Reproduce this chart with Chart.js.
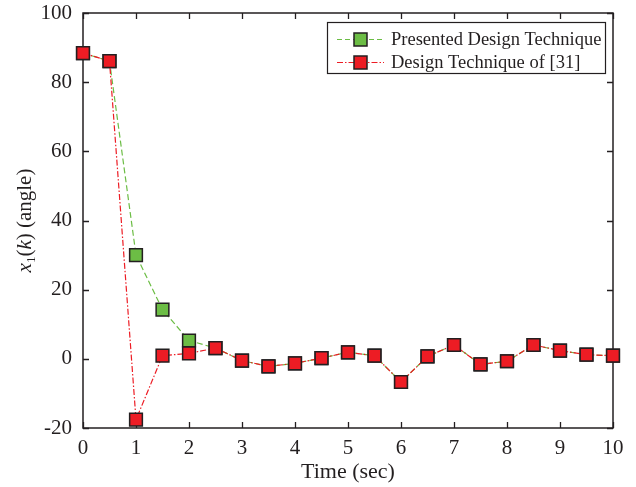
<!DOCTYPE html>
<html>
<head>
<meta charset="utf-8">
<script src="https://cdn.jsdelivr.net/npm/chart.js@4/dist/chart.umd.min.js"></script>
<style>
  html, body { margin: 0; padding: 0; background: #fff; }
  #wrap { width: 636px; height: 487px; position: relative; }
</style>
</head>
<body>
<div id="wrap"><canvas id="simChart"></canvas></div>
<script>
const timeSec = [0, 0.5, 1, 1.5, 2, 2.5, 3, 3.5, 4, 4.5, 5, 5.5, 6, 6.5, 7, 7.5, 8, 8.5, 9, 9.5, 10];
const presented = [88.4, 86.1, 30.0, 14.2, 5.3, 3.1, -0.5, -2.2, -1.3, 0.2, 1.9, 0.9, -6.7, 0.7, 4.0, -1.6, -0.7, 4.0, 2.4, 1.2, 0.9];
const ref31 = [88.4, 86.1, -17.6, 0.9, 1.6, 3.1, -0.5, -2.2, -1.3, 0.2, 1.9, 0.9, -6.7, 0.7, 4.0, -1.6, -0.7, 4.0, 2.4, 1.2, 0.9];
const xTicks = [0, 1, 2, 3, 4, 5, 6, 7, 8, 9, 10];
const yTicks = [-20, 0, 20, 40, 60, 80, 100];
const seriesNames = ['Presented Design Technique', 'Design Technique of [31]'];

const GREEN = '#6cbd45';
const RED = '#ed1c24';
const INK = '#231f20';
const SERIF = '"Liberation Serif", "Times New Roman", serif';

const toXY = ys => timeSec.map((t, i) => ({ x: t, y: ys[i] }));

// inward ticks on all four sides + top/right frame
const frameTicks = {
    id: 'frameTicks',
    beforeDatasetsDraw(chart) {
        const { ctx, chartArea: a, scales: { x, y } } = chart;
        const L = 6;
        ctx.save();
        ctx.strokeStyle = INK;
        ctx.lineWidth = 1.3;
        ctx.beginPath();
        xTicks.forEach(v => {
            const px = Math.round(x.getPixelForValue(v)) + 0.5;
            ctx.moveTo(px, a.bottom); ctx.lineTo(px, a.bottom - L);
            ctx.moveTo(px, a.top); ctx.lineTo(px, a.top + L);
        });
        yTicks.forEach(v => {
            const py = Math.round(y.getPixelForValue(v)) + 0.5;
            ctx.moveTo(a.left, py); ctx.lineTo(a.left + L, py);
            ctx.moveTo(a.right, py); ctx.lineTo(a.right - L, py);
        });
        ctx.stroke();
        ctx.lineWidth = 1.5;
        ctx.strokeRect(a.left, a.top, a.right - a.left, a.bottom - a.top);
        ctx.restore();
    }
};

// y title with italic parts and subscript
const yTitle = {
    id: 'yTitle',
    afterDraw(chart) {
        const { ctx, chartArea: a } = chart;
        const cy = (a.top + a.bottom) / 2;
        const parts = [
            { t: 'x', f: 'italic 21px ' + SERIF, dy: 0 },
            { t: '1', f: '13px ' + SERIF, dy: 4 },
            { t: '(', f: '21px ' + SERIF, dy: 0 },
            { t: 'k', f: 'italic 21px ' + SERIF, dy: 0 },
            { t: ') (angle)', f: '21px ' + SERIF, dy: 0 }
        ];
        ctx.save();
        let total = 0;
        parts.forEach(p => { ctx.font = p.f; p.w = ctx.measureText(p.t).width; total += p.w; });
        ctx.translate(31, cy);
        ctx.rotate(-Math.PI / 2);
        ctx.fillStyle = INK;
        ctx.textBaseline = 'alphabetic';
        let cx = -total / 2;
        parts.forEach(p => {
            ctx.font = p.f;
            ctx.fillText(p.t, cx, p.dy);
            cx += p.w;
        });
        ctx.restore();
    }
};

// boxed legend with line + marker samples
const boxLegend = {
    id: 'boxLegend',
    afterDraw(chart) {
        const { ctx } = chart;
        const bx = 327, by = 22, bw = 278, bh = 51;
        ctx.save();
        ctx.fillStyle = '#fff';
        ctx.fillRect(bx, by, bw, bh);
        ctx.strokeStyle = INK;
        ctx.lineWidth = 1.2;
        ctx.strokeRect(bx + 0.5, by + 0.5, bw, bh);
        const rows = [
            { y: 39, color: GREEN, dash: [5, 3] },
            { y: 62, color: RED, dash: [6, 2, 1.5, 2] }
        ];
        rows.forEach((r, i) => {
            ctx.strokeStyle = r.color;
            ctx.lineWidth = 1;
            ctx.setLineDash(r.dash);
            ctx.beginPath();
            ctx.moveTo(337, r.y + 0.5);
            ctx.lineTo(384, r.y + 0.5);
            ctx.stroke();
            ctx.setLineDash([]);
            ctx.fillStyle = r.color;
            ctx.fillRect(354, r.y - 6, 13, 13);
            ctx.strokeStyle = INK;
            ctx.lineWidth = 1.5;
            ctx.strokeRect(354, r.y - 6, 13, 13);
            ctx.fillStyle = INK;
            ctx.font = '18.5px ' + SERIF;
            ctx.textBaseline = 'middle';
            ctx.fillText(seriesNames[i], 391, r.y + 1);
        });
        ctx.restore();
    }
};

new Chart(document.getElementById('simChart'), {
    type: 'line',
    data: {
        datasets: [
            {
                label: seriesNames[0],
                data: toXY(presented),
                borderColor: GREEN,
                borderWidth: 1.2,
                borderDash: [6, 3],
                backgroundColor: GREEN,
                pointStyle: 'rect',
                pointRadius: 9,
                pointBorderColor: INK,
                pointBorderWidth: 1.5,
                pointBackgroundColor: GREEN,
                clip: false,
                order: 1
            },
            {
                label: seriesNames[1],
                data: toXY(ref31),
                borderColor: RED,
                borderWidth: 1.2,
                borderDash: [6, 2, 1.5, 2],
                backgroundColor: RED,
                pointStyle: 'rect',
                pointRadius: 9,
                pointBorderColor: INK,
                pointBorderWidth: 1.5,
                pointBackgroundColor: RED,
                clip: false,
                order: 0
            }
        ]
    },
    options: {
        responsive: true,
        maintainAspectRatio: false,
        animation: false,
        layout: { padding: { left: 0, top: 13, right: 23, bottom: 0 } },
        plugins: {
            legend: { display: false },
            tooltip: { enabled: false }
        },
        scales: {
            x: {
                type: 'linear',
                min: 0,
                max: 10,
                afterBuildTicks: s => { s.ticks = xTicks.map(v => ({ value: v })); },
                afterFit: s => { s.height = 59; s.paddingLeft = 0; s.paddingRight = 0; },
                grid: { display: false, drawTicks: false },
                border: { display: false },
                ticks: {
                    color: INK,
                    font: { family: SERIF, size: 21 },
                    padding: 8,
                    maxRotation: 0
                },
                title: {
                    display: true,
                    text: 'Time (sec)',
                    color: INK,
                    font: { family: SERIF, size: 22 },
                    padding: { top: 0, bottom: 2 }
                }
            },
            y: {
                min: -20,
                max: 100,
                afterBuildTicks: s => { s.ticks = yTicks.map(v => ({ value: v })); },
                afterFit: s => { s.width = 83; s.paddingTop = 0; s.paddingBottom = 0; },
                grid: { display: false, drawTicks: false },
                border: { display: false },
                ticks: {
                    color: INK,
                    font: { family: SERIF, size: 21 },
                    padding: 11,
                    callback: v => String(v)
                }
            }
        }
    },
    plugins: [frameTicks, yTitle, boxLegend]
});
</script>
</body>
</html>
